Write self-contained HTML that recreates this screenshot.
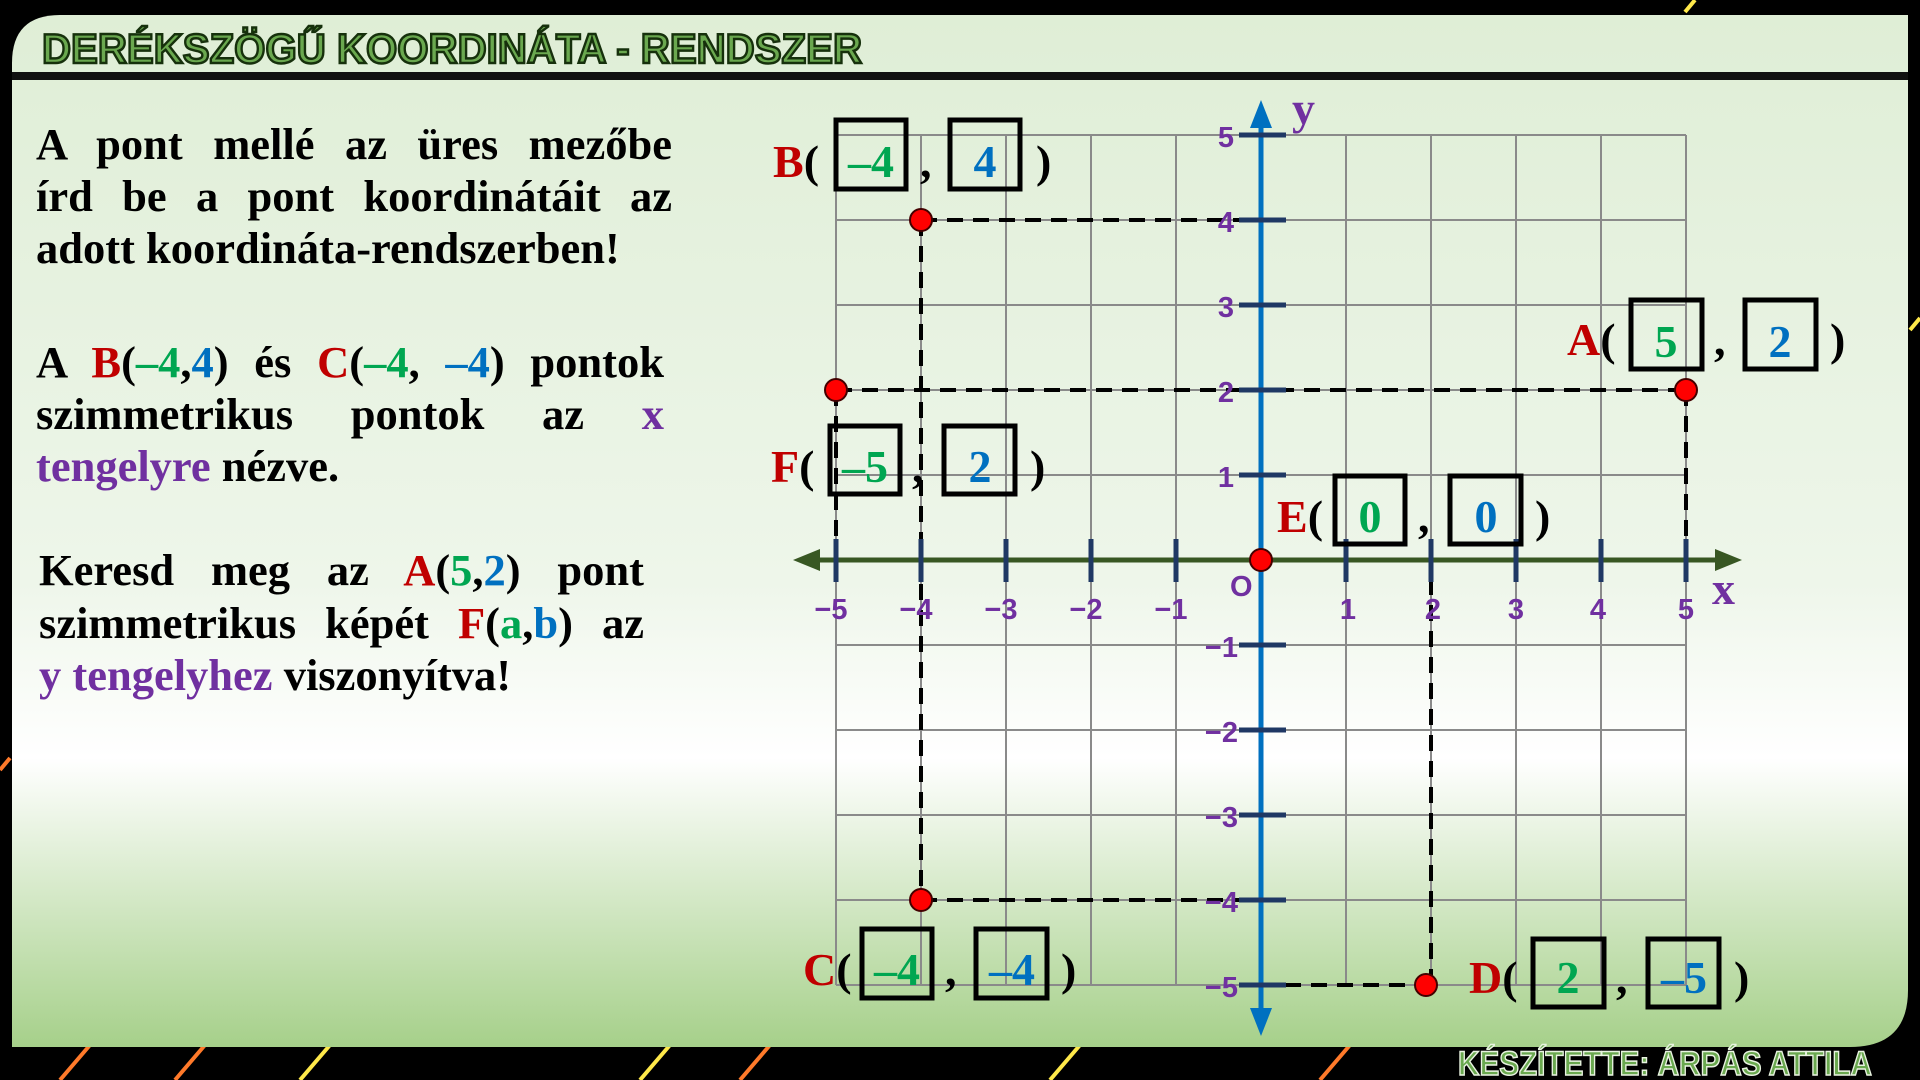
<!DOCTYPE html>
<html><head><meta charset="utf-8"><style>
body{margin:0;width:1920px;height:1080px;overflow:hidden;background:#000;position:relative}
svg{display:block;position:absolute;left:0;top:0}
.ln{position:absolute;font-family:"Liberation Serif",serif;font-weight:bold;font-size:44.5px;color:#000;white-space:nowrap;line-height:1}
.j{text-align:justify;text-align-last:justify;white-space:normal}
.r{color:#c00000}.g{color:#00a651}.b{color:#0070c0}.p{color:#7030a0}
.tk{font-family:"Liberation Sans",sans-serif;font-weight:bold;font-size:29px;fill:#7030a0}
.lb{font-family:"Liberation Serif",serif;font-weight:bold;font-size:46px}
.lb .r{fill:#c00000}.lb .g,.g2{fill:#00a651}.b2{fill:#0070c0}.p2{fill:#7030a0}
.bx{fill:none;stroke:#000;stroke-width:5}
</style></head><body>
<svg width="1920" height="1080" viewBox="0 0 1920 1080">
<defs>
<linearGradient id="bg" x1="0" y1="0" x2="0" y2="1">
<stop offset="0" stop-color="#dfeed6"/><stop offset="0.55" stop-color="#eef6ea"/>
<stop offset="0.72" stop-color="#ffffff"/><stop offset="1" stop-color="#a6d08a"/>
</linearGradient>
</defs>
<g stroke-width="4">
<line x1="60" y1="1080" x2="90" y2="1045" stroke="#ff7a2a"/>
<line x1="175" y1="1080" x2="205" y2="1045" stroke="#ff7a2a"/>
<line x1="300" y1="1080" x2="330" y2="1045" stroke="#ffe94a"/>
<line x1="640" y1="1080" x2="670" y2="1045" stroke="#ffe94a"/>
<line x1="740" y1="1080" x2="770" y2="1045" stroke="#ff7a2a"/>
<line x1="1050" y1="1080" x2="1080" y2="1045" stroke="#ffe94a"/>
<line x1="1320" y1="1080" x2="1350" y2="1045" stroke="#ff7a2a"/>
<line x1="1685" y1="12" x2="1695" y2="0" stroke="#ffe94a"/>
<line x1="1910" y1="330" x2="1920" y2="318" stroke="#ffe94a"/>
<line x1="0" y1="770" x2="10" y2="758" stroke="#ff7a2a"/>
</g>
<path d="M60 15 H1908 V990 Q1908 1047 1850 1047 H12 V63 Q12 15 60 15 Z" fill="url(#bg)"/>
<rect x="12" y="72" width="1896" height="8" fill="#111"/>
<text x="42" y="63" font-family="Liberation Sans,sans-serif" font-weight="bold" font-size="42" fill="#6aa84f" stroke="#16300c" stroke-width="2.5" textLength="820" lengthAdjust="spacingAndGlyphs">DERÉKSZÖGŰ KOORDINÁTA - RENDSZER</text>
<text x="1458" y="1075" font-family="Liberation Sans,sans-serif" font-weight="bold" font-size="34" fill="#6aa84f" stroke="#e8f3e0" stroke-width="1.5" textLength="414" lengthAdjust="spacingAndGlyphs">KÉSZÍTETTE: ÁRPÁS ATTILA</text>

<g stroke="#8a8a8a" stroke-width="2">
<path d="M836 135V985M921 135V985M1006 135V985M1091 135V985M1176 135V985M1261 135V985M1346 135V985M1431 135V985M1516 135V985M1601 135V985M1686 135V985"/>
<path d="M836 135H1686M836 220H1686M836 305H1686M836 390H1686M836 475H1686M836 560H1686M836 645H1686M836 730H1686M836 815H1686M836 900H1686M836 985H1686"/>
</g>
<g stroke="#000" stroke-width="4" stroke-dasharray="16,10" fill="none">
<path d="M921 220H1261M921 220V900M921 900H1261"/>
<path d="M836 390H1686M1686 390V560M836 390V560"/>
<path d="M1431 985H1261M1431 985V560"/>
</g>
<line x1="808" y1="560" x2="1726" y2="560" stroke="#385723" stroke-width="5"/>
<polygon points="793,560 820,549 820,571" fill="#385723"/>
<polygon points="1742,560 1715,549 1715,571" fill="#385723"/>
<line x1="1261" y1="120" x2="1261" y2="1018" stroke="#0070c0" stroke-width="5"/>
<polygon points="1261,100 1250,128 1272,128" fill="#0070c0"/>
<polygon points="1261,1036 1250,1008 1272,1008" fill="#0070c0"/>
<g stroke="#1f3864" stroke-width="5">
<path d="M836 539V582M921 539V582M1006 539V582M1091 539V582M1176 539V582M1346 539V582M1431 539V582M1516 539V582M1601 539V582M1686 539V582"/>
<path d="M1239 135H1286M1239 220H1286M1239 305H1286M1239 390H1286M1239 475H1286M1239 645H1286M1239 730H1286M1239 815H1286M1239 900H1286M1239 985H1286"/>
</g>
<g class="tk" text-anchor="middle">
<text x="831" y="619">−5</text><text x="916" y="619">−4</text><text x="1001" y="619">−3</text><text x="1086" y="619">−2</text><text x="1171" y="619">−1</text>
<text x="1348" y="619">1</text><text x="1433" y="619">2</text><text x="1516" y="619">3</text><text x="1598" y="619">4</text><text x="1686" y="619">5</text>
</g>
<g class="tk" text-anchor="end">
<text x="1234" y="147">5</text><text x="1234" y="232">4</text><text x="1234" y="317">3</text><text x="1234" y="402">2</text><text x="1234" y="487">1</text>
<text x="1238" y="657">−1</text><text x="1238" y="742">−2</text><text x="1238" y="827">−3</text><text x="1238" y="912">−4</text><text x="1238" y="997">−5</text>
</g>
<text x="1230" y="596" class="tk" font-size="36">O</text>
<text x="1292" y="124" class="lb p2" font-size="40">y</text>
<text x="1712" y="604" class="lb p2" font-size="40">x</text>
<g fill="#ff0000" stroke="#400" stroke-width="2">
<circle cx="921" cy="220" r="11"/><circle cx="1686" cy="390" r="11"/><circle cx="836" cy="390" r="11"/>
<circle cx="1261" cy="560" r="11"/><circle cx="921" cy="900" r="11"/><circle cx="1426" cy="985" r="11"/>
</g>
<g class="lb">
<text x="773" y="177"><tspan class="r">B</tspan>(</text><rect class="bx" x="836" y="120" width="70" height="69"/><text x="871" y="177" class="g2" text-anchor="middle">–4</text><text x="920" y="177">,</text><rect class="bx" x="950" y="120" width="70" height="69"/><text x="985" y="177" class="b2" text-anchor="middle">4</text><text x="1036" y="177">)</text>
<text x="1567" y="355"><tspan class="r">A</tspan>(</text><rect class="bx" x="1631" y="300" width="71" height="69"/><text x="1666" y="357" class="g2" text-anchor="middle">5</text><text x="1714" y="355">,</text><rect class="bx" x="1745" y="300" width="71" height="69"/><text x="1780" y="357" class="b2" text-anchor="middle">2</text><text x="1830" y="355">)</text>
<text x="771" y="482"><tspan class="r">F</tspan>(</text><rect class="bx" x="830" y="426" width="70" height="68"/><text x="865" y="482" class="g2" text-anchor="middle">–5</text><text x="912" y="482">,</text><rect class="bx" x="944" y="426" width="71" height="68"/><text x="980" y="482" class="b2" text-anchor="middle">2</text><text x="1030" y="482">)</text>
<text x="1277" y="532"><tspan class="r">E</tspan>(</text><rect class="bx" x="1335" y="476" width="70" height="68"/><text x="1370" y="532" class="g2" text-anchor="middle">0</text><text x="1418" y="532">,</text><rect class="bx" x="1450" y="476" width="71" height="68"/><text x="1486" y="532" class="b2" text-anchor="middle">0</text><text x="1535" y="532">)</text>
<text x="803" y="985"><tspan class="r">C</tspan>(</text><rect class="bx" x="862" y="929" width="70" height="69"/><text x="897" y="985" class="g2" text-anchor="middle">–4</text><text x="945" y="985">,</text><rect class="bx" x="976" y="929" width="71" height="69"/><text x="1012" y="985" class="b2" text-anchor="middle">–4</text><text x="1061" y="985">)</text>
<text x="1469" y="993"><tspan class="r">D</tspan>(</text><rect class="bx" x="1533" y="939" width="71" height="68"/><text x="1568" y="993" class="g2" text-anchor="middle">2</text><text x="1616" y="993">,</text><rect class="bx" x="1648" y="939" width="71" height="68"/><text x="1684" y="993" class="b2" text-anchor="middle">–5</text><text x="1734" y="993">)</text>
</g>
</svg>
<div class="ln j" style="left:36px;top:122px;width:636px">A pont mellé az üres mezőbe</div>
<div class="ln j" style="left:36px;top:174px;width:636px">írd be a pont koordinátáit az</div>
<div class="ln" style="left:36px;top:226px">adott koordináta-rendszerben!</div>
<div class="ln j" style="left:36px;top:340px;width:628px">A <span class="r">B</span>(<span class="g">–4</span>,<span class="b">4</span>) és <span class="r">C</span>(<span class="g">–4</span>, <span class="b">–4</span>) pontok</div>
<div class="ln j" style="left:36px;top:392px;width:628px">szimmetrikus pontok az <span class="p">x</span></div>
<div class="ln" style="left:36px;top:444px"><span class="p">tengelyre</span> nézve.</div>
<div class="ln j" style="left:39px;top:548px;width:605px">Keresd meg az <span class="r">A</span>(<span class="g">5</span>,<span class="b">2</span>) pont</div>
<div class="ln j" style="left:39px;top:601px;width:605px">szimmetrikus képét <span class="r">F</span>(<span class="g">a</span>,<span class="b">b</span>) az</div>
<div class="ln" style="left:39px;top:653px"><span class="p">y tengelyhez</span> viszonyítva!</div>
</body></html>
